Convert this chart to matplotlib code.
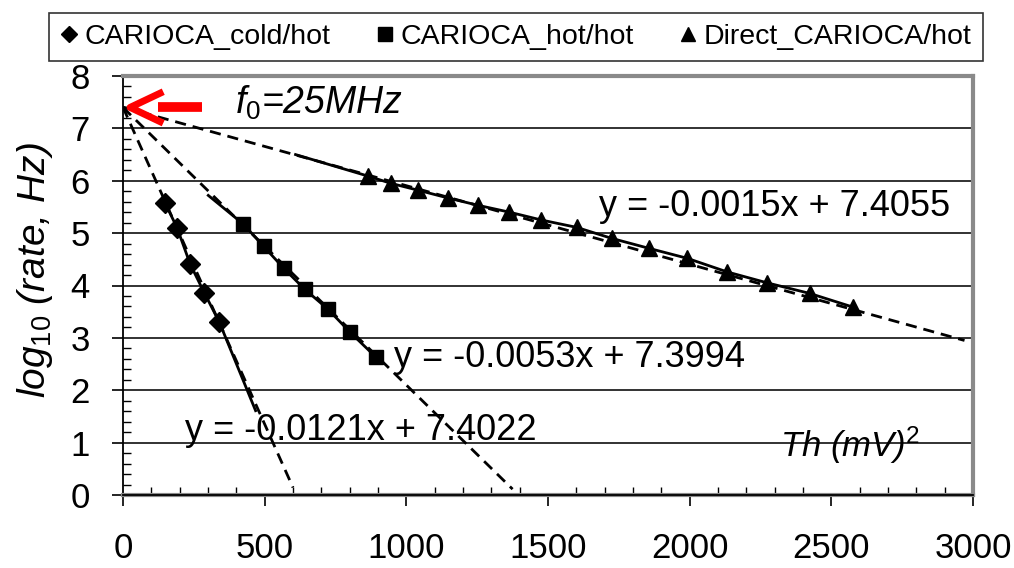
import matplotlib
matplotlib.use("Agg")
import numpy as np
from matplotlib import pyplot as plt
from matplotlib.lines import Line2D

plt.rcParams['font.family'] = ['Liberation Sans', 'DejaVu Sans']
plt.rcParams['mathtext.fontset'] = 'custom'
plt.rcParams['mathtext.rm'] = 'Liberation Sans'
plt.rcParams['mathtext.it'] = 'Liberation Sans:italic'

# measured points, threshold (mV)^2 vs log10 of the rate
cold_x = [149, 191, 237, 287, 340]
cold_y = [5.57, 5.10, 4.41, 3.86, 3.30]
hot_x = [425, 496, 567, 641, 723, 801, 893]
hot_y = [5.17, 4.75, 4.33, 3.93, 3.55, 3.11, 2.63]
direct_x = [864, 946, 1041, 1148, 1254, 1364, 1477, 1601, 1725, 1856, 1991, 2132, 2274, 2423, 2575]
direct_y = [6.09, 5.95, 5.82, 5.67, 5.53, 5.40, 5.25, 5.11, 4.90, 4.71, 4.52, 4.26, 4.05, 3.85, 3.59]

# unmarked ends of the measured curves
cold_end = (468, 1.61)
hot_start = (301, 5.72)
direct_start = (609, 6.50)

# linear fits (slope, intercept)
fits = {'cold': (-0.0121, 7.4022), 'hot': (-0.0053, 7.3994), 'direct': (-0.0015, 7.4055)}
fit_xmax = {'cold': 600, 'hot': 1375, 'direct': 2970}

labels = ['CARIOCA_cold/hot', 'CARIOCA_hot/hot', 'Direct_CARIOCA/hot']

fig = plt.figure(figsize=(10.14, 5.68), dpi=100)
ax = fig.add_axes([123/1014, 1-495/568, 850/1014, 419/568])

for y in range(1, 9):
    ax.axhline(y, color='#222222', lw=1.3, zorder=1)

for key in fits:
    a, b = fits[key]
    xx = np.array([0, fit_xmax[key]])
    ax.plot(xx, a*xx + b, color='black', lw=2, ls=(0, (4, 2.5)), zorder=2)

ax.plot(cold_x + [cold_end[0]], cold_y + [cold_end[1]], color='black', lw=2, zorder=3)
ax.plot([hot_start[0]] + hot_x, [hot_start[1]] + hot_y, color='black', lw=2, zorder=3)
ax.plot([direct_start[0]] + direct_x, [direct_start[1]] + direct_y, color='black', lw=2, zorder=3)

ax.plot(cold_x, cold_y, ls='none', marker='D', ms=10, color='black', zorder=4)
ax.plot(hot_x, hot_y, ls='none', marker='s', ms=10, color='black', zorder=4)
ax.plot(direct_x, direct_y, ls='none', marker='^', ms=12, color='black', zorder=4)

ax.set_xlim(0, 3000)
ax.set_ylim(0, 8)
ax.set_xticks(range(0, 3001, 500))
ax.set_xticks(range(0, 3001, 100), minor=True)
ax.set_yticks(range(0, 9))
ax.set_yticks(np.arange(0, 8.01, 0.2), minor=True)
ax.tick_params(which='major', direction='out', length=8, width=1.2, labelsize=25, colors='black')
ax.tick_params(axis='x', which='major', pad=19)
ax.tick_params(axis='y', which='major', pad=16)
ax.tick_params(which='minor', direction='in', length=6, width=1)

for side in ['top', 'right', 'bottom']:
    ax.spines[side].set_color('#8a8a8a')
    ax.spines[side].set_linewidth(3)
ax.spines['left'].set_color('black')
ax.spines['left'].set_linewidth(1.3)
ax.axhline(0, color='black', lw=1.3, zorder=5, clip_on=False)

ax.text(1679, 5.50, 'y = -0.0015x + 7.4055', fontsize=26, va='center')
ax.text(956, 2.63, 'y = -0.0053x + 7.3994', fontsize=26, va='center')
ax.text(220, 1.24, 'y = -0.0121x + 7.4022', fontsize=26, va='center')

ax.text(397, 7.48, '$f_{0}$=25MHz', fontsize=27, style='italic', va='center')
ax.text(2320, 0.95, 'Th (mV)$^{2}$', fontsize=25, style='italic', va='center')
fig.text(35/1014, 0.525, r'$log_{\mathit{10}}$ (rate, Hz)', rotation=90, fontsize=28,
         style='italic', ha='center', va='center')

# red arrow pointing at the common intercept
ax.plot([142, 25, 142], [7.70, 7.40, 7.10], color='red', lw=5, solid_capstyle='butt', zorder=6, clip_on=False)
ax.plot([125, 280], [7.40, 7.40], color='red', lw=7, solid_capstyle='butt', zorder=6)

handles = [Line2D([], [], ls='none', marker=m, ms=s, color='black') for m, s in [('D', 8), ('s', 10), ('^', 10)]]
leg = fig.legend(handles, labels, loc='center', bbox_to_anchor=(516/1014, 1-37/568), ncol=3,
                 frameon=True, fancybox=False, edgecolor='black', handlelength=0.6, handletextpad=0.25,
                 columnspacing=1.6, borderpad=0.4, prop={'size': 20.5})
leg.get_frame().set_linewidth(1.2)

fig.savefig('out.png', dpi=100)
